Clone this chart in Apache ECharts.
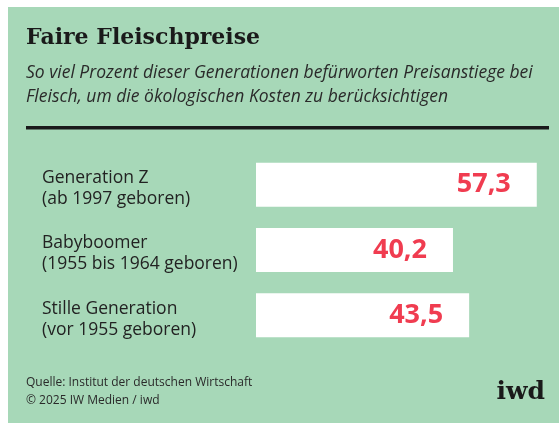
<!DOCTYPE html>
<html>
<head>
<meta charset="UTF-8">
<script src="https://cdn.jsdelivr.net/npm/echarts@6/dist/echarts.min.js"></script>
<style>
  html, body { margin: 0; padding: 0; background: #fff; }
  #main { width: 559px; height: 423px; }
</style>
</head>
<body>
<div id="main"></div>
<script>
// Daten
var generationen = ['Generation Z', 'Babyboomer', 'Stille Generation'];
var jahrgaenge = ['(ab 1997 geboren)', '(1955 bis 1964 geboren)', '(vor 1955 geboren)'];
var anteile = [57.3, 40.2, 43.5];

var chart = echarts.init(document.getElementById('main'));
chart.setOption({
    backgroundColor: '#fff',
    animation: false,
    textStyle: { fontFamily: 'Open Sans' },
    graphic: [
        // gruener Hintergrund
        { type: 'rect', left: 8, top: 7, z: -10, shape: { width: 551, height: 416 }, style: { fill: '#a7d8b8' } },
        { type: 'text', left: 26, top: 27, style: { text: 'Faire Fleischpreise', fill: '#1a1a1a', font: 'bold 22px "DejaVu Serif"' } },
        { type: 'text', left: 26, top: 61, style: { text: 'So viel Prozent dieser Generationen befürworten Preisanstiege bei\nFleisch, um die ökologischen Kosten zu berücksichtigen', fill: '#2a2a2a', font: 'italic 17.5px "Open Sans"', lineHeight: 24 } },
        { type: 'rect', left: 26, top: 126, shape: { width: 523, height: 3.5 }, style: { fill: '#1a1a1a' } },
        { type: 'text', left: 26, top: 374, style: { text: 'Quelle: Institut der deutschen Wirtschaft\n© 2025 IW Medien / iwd', fill: '#2a2a2a', font: '12px "Open Sans"', lineHeight: 18 } },
        { type: 'text', right: 14, top: 380, style: { text: 'iwd', fill: '#1a1a1a', font: 'bold 25px "DejaVu Serif"' } }
    ],
    grid: { left: 256, right: 9, top: 152, bottom: 75 },
    xAxis: {
        type: 'value', min: 0, max: 60,
        show: false
    },
    yAxis: {
        type: 'category',
        inverse: true,
        data: generationen,
        axisLine: { show: false },
        axisTick: { show: false },
        axisLabel: {
            align: 'left',
            margin: 214,
            formatter: function (v, i) { return '{s| }\n{a|' + v + '}\n{a|' + jahrgaenge[i] + '}'; },
            rich: {
                s: { fontSize: 1, lineHeight: 8 },
                a: { color: '#222', fontSize: 17.5, lineHeight: 21, fontFamily: 'Open Sans' }
            }
        }
    },
    series: [{
        type: 'bar',
        data: anteile,
        barWidth: 44,
        itemStyle: { color: '#ffffff' },
        label: {
            show: true,
            position: 'insideRight',
            distance: 26,
            color: '#f03c50',
            fontSize: 27,
            fontWeight: 'bold',
            fontFamily: 'Open Sans',
            formatter: function (p) { return String(p.value).replace('.', ','); }
        }
    }]
});
</script>
</body>
</html>
